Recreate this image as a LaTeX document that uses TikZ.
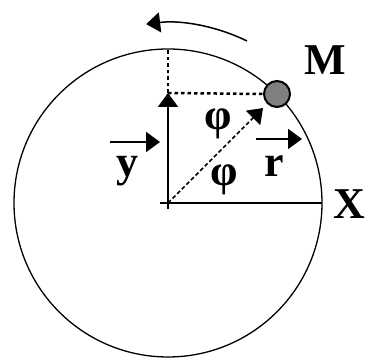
\documentclass[tikz,border=0pt]{standalone}
\usepackage{fontspec}
\setmainfont{Liberation Serif}
\usetikzlibrary{arrows.meta}

\begin{document}
\begin{tikzpicture}[x=1pt,y=1pt,
        lbl/.style={font=\fontsize{44}{44}\selectfont\bfseries,inner sep=0pt},
        tip/.style={-{Triangle[length=14pt,width=20pt]}},
        dots/.style={line width=2.5pt,dash pattern=on 3.5pt off 3pt},
        ball/.style={circle,draw,line width=2pt,fill=gray,minimum size=26pt,inner sep=0pt}]
        \useasboundingbox (0,0) rectangle (365,358);
        \coordinate (o) at (168,155);
        \draw[line width=1.3pt] (o) circle[radius=154pt];
        % axes
        \coordinate (xst) at (160,155); \coordinate (xend) at (322,155);
        \coordinate (yst) at (168,149); \coordinate (ytip) at (168,265);
        \coordinate (ytop) at (168,308);
        \draw[line width=2pt] (xst)--(xend);
        \draw[line width=2pt,tip] (yst)--(ytip);
        % point M and its projections
        \node[ball] (m) at (277,264) {};
        \draw[dots] (ytip)--(m.west); \draw[dots] (ytip)--(ytop);
        \coordinate (rtip) at (263,250);
        \draw[line width=1.5pt,dash pattern=on 4pt off 2.5pt,tip] (o)--(rtip);
        % vector signs
        \coordinate (ya) at (110,216); \coordinate (yb) at (160,216);
        \coordinate (ra) at (256,219); \coordinate (rb) at (302,219);
        \draw[line width=2pt,tip] (ya)--(yb);
        \draw[line width=2pt,tip] (ra)--(rb);
        % rotation
        \coordinate (ar) at (247,317);
        \draw[line width=1.5pt,tip] (ar) arc[start angle=64,end angle=97,radius=180pt];
        \node[lbl] (ylbl) at (127,187) {y};
        \node[lbl] (rlbl) at (274,192) {r};
        \node[lbl] (phia) at (218,234) {φ};
        \node[lbl] (phib) at (224,178) {φ};
        \node[lbl] (mlbl) at (325,298) {M};
        \node[lbl] (xlbl) at (349,154) {X};
      \end{tikzpicture}
\end{document}
